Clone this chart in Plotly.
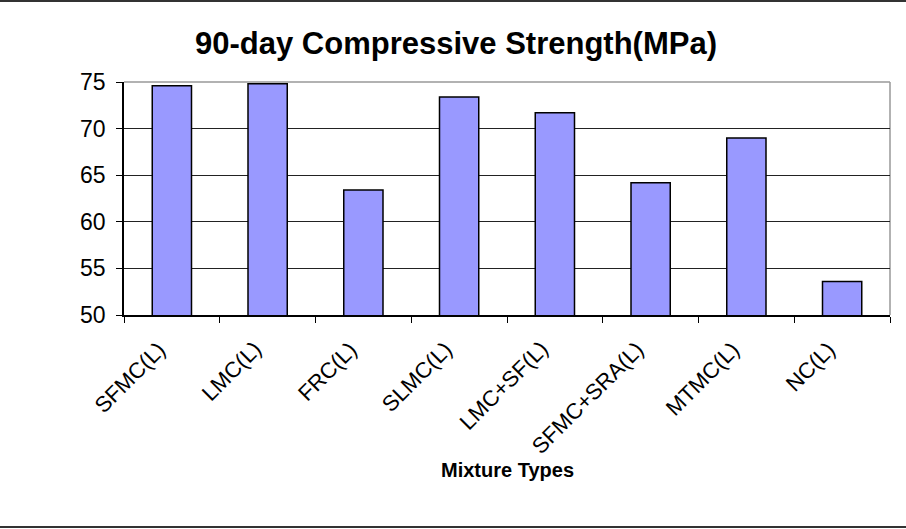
import plotly.graph_objects as go

# Mixture designs and their 90-day compressive strength (MPa)
mixtures = ["SFMC(L)", "LMC(L)", "FRC(L)", "SLMC(L)", "LMC+SF(L)",
            "SFMC+SRA(L)", "MTMC(L)", "NC(L)"]
strength = [74.6, 74.8, 63.4, 73.4, 71.7, 64.2, 69.0, 53.6]

W, H = 906, 529
ML, MR, MT, MB = 124, 16, 82, 214
pw, ph = W - ML - MR, H - MT - MB

fig = go.Figure(go.Bar(
    x=mixtures, y=strength,
    marker=dict(color="#9999FF", line=dict(color="black", width=1.5)),
    width=0.41,
))

font = "Liberation Sans, Arial, sans-serif"

# slanted category labels, their upper-right corner at each category
cat_labels = [
    dict(text=m, x=m, xref="x", y=-19 / ph, yref="paper",
         xanchor="right", yanchor="top", textangle=-45, xshift=1,
         showarrow=False, font=dict(family=font, size=22, color="black"))
    for m in mixtures
]

fig.update_layout(
    width=W, height=H,
    margin=dict(l=ML, r=MR, t=MT, b=MB),
    paper_bgcolor="white", plot_bgcolor="white",
    showlegend=False,
    font=dict(family=font, color="black", size=20),
    title=dict(text="<b>90-day Compressive Strength(MPa)</b>",
               x=456 / W, xanchor="center",
               y=1 - 43 / H, yanchor="middle",
               font=dict(family=font, size=31, color="black")),
    xaxis=dict(
        showline=True, linecolor="black", linewidth=1.5,
        ticks="outside", ticklen=6, tickcolor="black", tickwidth=1,
        tickson="boundaries", showticklabels=False, showgrid=False,
        range=[-0.5, len(mixtures) - 0.5],
    ),
    yaxis=dict(
        range=[50, 75], dtick=5,
        showline=True, linecolor="black", linewidth=1.5,
        ticks="outside", ticklen=6, tickcolor="black", tickwidth=1,
        showgrid=True, gridcolor="#222222", gridwidth=1,
        tickfont=dict(size=23), zeroline=False, ticklabelstandoff=6,
    ),
    shapes=[
        # plot area border on the top and right
        dict(type="line", xref="paper", yref="paper", x0=0, x1=1, y0=1, y1=1,
             line=dict(color="#999999", width=1.5), layer="below"),
        dict(type="line", xref="paper", yref="paper", x0=1, x1=1, y0=0, y1=1,
             line=dict(color="#999999", width=1.5), layer="below"),
        # chart frame rules, top and bottom
        dict(type="line", xref="paper", yref="paper",
             x0=-ML / pw, x1=(W - ML) / pw,
             y0=1 + (MT - 1) / ph, y1=1 + (MT - 1) / ph,
             line=dict(color="#333333", width=2)),
        dict(type="line", xref="paper", yref="paper",
             x0=-ML / pw, x1=(W - ML) / pw,
             y0=-(MB - 2) / ph, y1=-(MB - 2) / ph,
             line=dict(color="#333333", width=2)),
    ],
    annotations=cat_labels + [
        dict(text="<b>Mixture Types</b>", xref="paper", yref="paper",
             x=0.5, y=-(470 - MT - ph) / ph, xanchor="center", yanchor="middle",
             showarrow=False, font=dict(family=font, size=20, color="black")),
    ],
)

fig.write_html("out.html")
